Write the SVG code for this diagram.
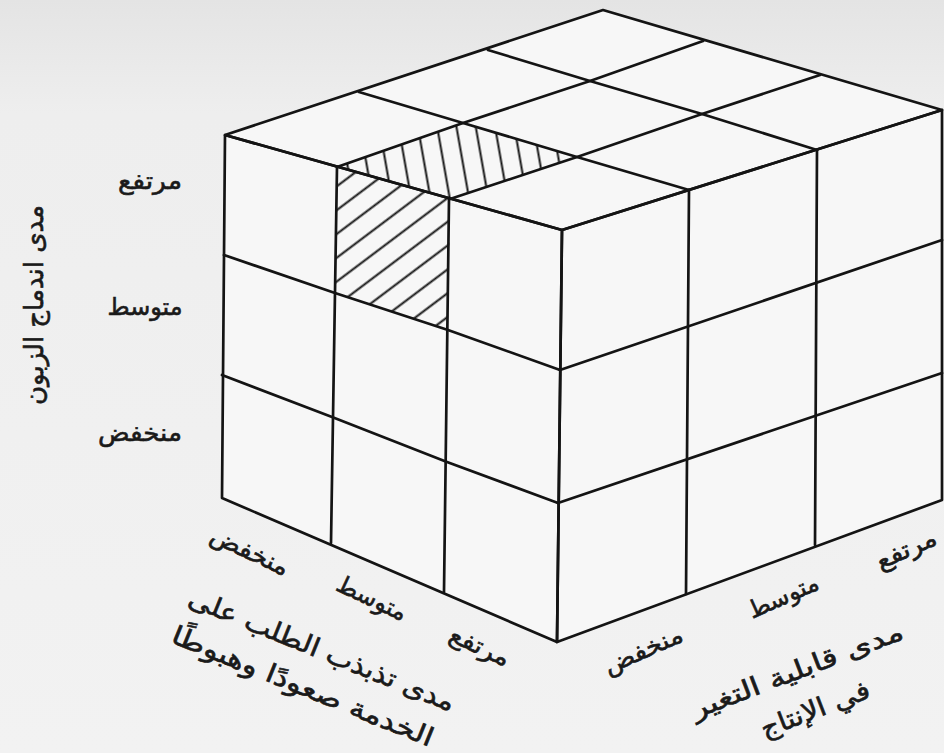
<svg xmlns="http://www.w3.org/2000/svg" width="944" height="753" viewBox="0 0 944 753">
<defs>
<style>
.e{stroke:#141414;stroke-width:2.7;fill:none;stroke-linecap:round;stroke-linejoin:round}
.face{fill:#f7f7f7;stroke:none}
.t{font-family:"DejaVu Sans",sans-serif;fill:#1a1a1a;stroke:#1a1a1a;stroke-width:0.6;text-anchor:middle}
.lv{font-size:24px}
.ti{font-size:26px}
</style>
<pattern id="hv" patternUnits="userSpaceOnUse" width="19" height="40" patternTransform="rotate(-10)">
<line x1="9.5" y1="-5" x2="9.5" y2="45" stroke="#141414" stroke-width="2"/>
</pattern>
<pattern id="hd" patternUnits="userSpaceOnUse" width="40" height="19" patternTransform="rotate(-37)">
<line x1="-5" y1="9.5" x2="45" y2="9.5" stroke="#141414" stroke-width="2"/>
</pattern>
<linearGradient id="bg" x1="0" y1="0" x2="0" y2="1">
<stop offset="0" stop-color="#e4e4e4"/>
<stop offset="0.15" stop-color="#eeeeee"/>
<stop offset="1" stop-color="#f2f2f2"/>
</linearGradient>
</defs>
<rect x="0" y="0" width="944" height="753" fill="url(#bg)"/>
<g id="faces">
<polygon class="face" points="225,135 603,10 942,110 562,230"/>
<polygon class="face" points="225,135 562,230 557,642 222,498"/>
<polygon class="face" points="562,230 942,110 942,500 557,642"/>
</g>
<g id="hatch">
<polygon points="337,167 463,123 577,157 450,199" fill="url(#hv)"/>
<polygon points="337,167 450,199 448,330 335,293" fill="url(#hd)"/>
</g>
<g id="top-face">
<polygon class="e" points="225,135 603,10 942,110 562,230"/>
<polyline class="e" points="337,167 463,123 590,81 703,41"/>
<polyline class="e" points="450,199 577,157 702,114 820,75"/>
<polyline class="e" points="359,92 463,123 577,157 689,190"/>
<polyline class="e" points="488,50 590,81 702,114 817,150"/>
</g>
<g id="left-face">
<polygon class="e" points="225,135 562,230 557,642 222,498"/>
<line class="e" x1="337" y1="167" x2="331" y2="543"/>
<line class="e" x1="449" y1="199" x2="444" y2="592"/>
<polyline class="e" points="224,255 335,293 448,330 560,370"/>
<polyline class="e" points="222,375 332,417 447,462 558,503"/>
</g>
<g id="right-face">
<polygon class="e" points="562,230 942,110 942,500 557,642"/>
<line class="e" x1="689" y1="190" x2="686" y2="594"/>
<line class="e" x1="817" y1="150" x2="815" y2="545"/>
<line class="e" x1="560" y1="370" x2="942" y2="240"/>
<line class="e" x1="558" y1="503" x2="942" y2="373"/>
</g>
<g id="axis-vertical">
<text class="t ti" transform="translate(43,305) rotate(-90)" textLength="200" lengthAdjust="spacingAndGlyphs">مدى اندماج الزبون</text>
<text class="t lv" x="150" y="189" textLength="64" lengthAdjust="spacingAndGlyphs">مرتفع</text>
<text class="t lv" x="145" y="315" textLength="75" lengthAdjust="spacingAndGlyphs">متوسط</text>
<text class="t lv" x="140" y="441" textLength="84" lengthAdjust="spacingAndGlyphs">منخفض</text>
</g>
<g id="axis-left">
<text class="t lv" transform="translate(250,551) rotate(25)" dy="0.35em" textLength="84" lengthAdjust="spacingAndGlyphs">منخفض</text>
<text class="t lv" transform="translate(372,598) rotate(25)" dy="0.35em" textLength="75" lengthAdjust="spacingAndGlyphs">متوسط</text>
<text class="t lv" transform="translate(480,646) rotate(25)" dy="0.35em" textLength="64" lengthAdjust="spacingAndGlyphs">مرتفع</text>
<text class="t ti" transform="translate(322,650) rotate(22)" dy="0.35em" textLength="285" lengthAdjust="spacingAndGlyphs">مدى تذبذب الطلب على</text>
<text class="t ti" transform="translate(303,686) rotate(22)" dy="0.35em" textLength="280" lengthAdjust="spacingAndGlyphs">الخدمة صعودًا وهبوطًا</text>
</g>
<g id="axis-right">
<text class="t lv" transform="translate(643,650) rotate(-24)" dy="0.35em" textLength="84" lengthAdjust="spacingAndGlyphs">منخفض</text>
<text class="t lv" transform="translate(783,596) rotate(-24)" dy="0.35em" textLength="75" lengthAdjust="spacingAndGlyphs">متوسط</text>
<text class="t lv" transform="translate(906,549) rotate(-24)" dy="0.35em" textLength="64" lengthAdjust="spacingAndGlyphs">مرتفع</text>
<text class="t ti" transform="translate(797,670) rotate(-21)" dy="0.35em" textLength="225" lengthAdjust="spacingAndGlyphs">مدى قابلية التغير</text>
<text class="t ti" transform="translate(815,709) rotate(-21)" dy="0.35em" textLength="115" lengthAdjust="spacingAndGlyphs">في الإنتاج</text>
</g>
</svg>
